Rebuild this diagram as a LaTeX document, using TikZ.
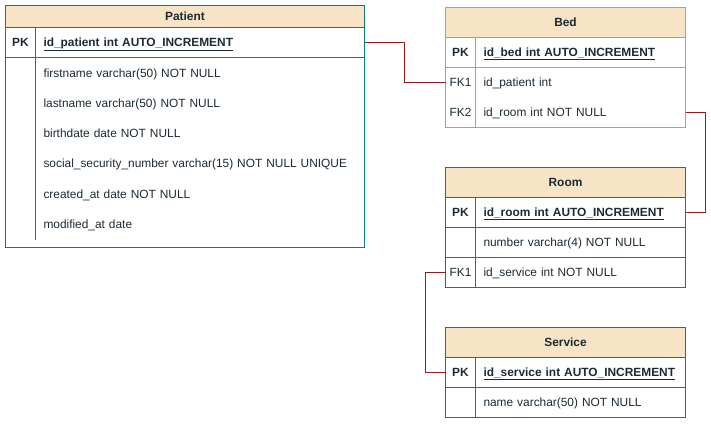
\documentclass[tikz,border=0pt]{standalone}
\usepackage{fontspec}
\setmainfont{Liberation Sans}
\definecolor{bordo}{HTML}{0A7C84}
\definecolor{bordochiaro}{HTML}{6AB8BA}
\definecolor{intest}{HTML}{F7E4C6}
\definecolor{testo}{HTML}{1B2A33}
\definecolor{rosso}{HTML}{8E1F1F}
\begin{document}
\begin{tikzpicture}[x=1pt,y=-1pt,line width=1pt,
  every node/.style={font=\fontsize{11.9}{14}\selectfont, text=testo, inner sep=0pt, outer sep=0pt},
  titolo/.style={fill=intest, font=\fontsize{11.9}{14}\selectfont\bfseries, minimum width=240, minimum height=30, text height=9.6, text depth=1.4},
  chiave/.style={minimum width=30, minimum height=30, text height=9.6, text depth=1.4},
  pk/.style={chiave, font=\fontsize{11.9}{14}\selectfont\bfseries},
  campo/.style={text width=194, inner xsep=8, align=left, minimum height=30, text height=9.6, text depth=1.4},
  rel/.style={draw=rosso, line width=1pt}]
  \useasboundingbox (0,0) rectangle (711,423);
  \begin{scope}[shift={(0.5,0.5)}]

  % Patient
  \node[titolo, minimum width=359, minimum height=22] (patient) at (184.5,16) {Patient};
  \node[pk] (patientpkk) at (20,42) {PK};
  \node[campo, text width=313] (patientpk) at (199.5,42) {\textbf{\underline{id\_patient int AUTO\_INCREMENT}}};
  \node[campo, text width=313] (firstname) at (199.5,72.5) {firstname varchar(50) NOT NULL};
  \node[campo, text width=313] (lastname) at (199.5,102.5) {lastname varchar(50) NOT NULL};
  \node[campo, text width=313] (birthdate) at (199.5,132.5) {birthdate date NOT NULL};
  \node[campo, text width=313] (ssn) at (199.5,163) {social\_security\_number varchar(15) NOT NULL UNIQUE};
  \node[campo, text width=313] (created) at (199.5,193.5) {created\_at date NOT NULL};
  \node[campo, text width=313] (modified) at (199.5,224) {modified\_at date};
  \draw[bordo] (patient.north west) rectangle (364,247);
  \draw[bordo] (patient.south west) -- (patient.south east);
  \draw[bordo] (patientpkk.south west) -- (patientpk.south east);
  \draw[bordo] (patientpkk.north east) -- (35,239);

  % Bed
  \node[titolo] (bed) at (565,22) {Bed};
  \node[pk] (bedpkk) at (460,52) {PK};
  \node[campo] (bedpk) at (580,52) {\textbf{\underline{id\_bed int AUTO\_INCREMENT}}};
  \node[chiave] (bedfk1) at (460,82) {FK1};
  \node[campo] (bedpatient) at (580,82) {id\_patient int};
  \node[chiave] (bedfk2) at (460,112) {FK2};
  \node[campo] (bedroom) at (580,112) {id\_room int NOT NULL};
  \draw[bordochiaro] (bed.north west) rectangle (bedroom.south east);
  \draw[bordochiaro] (bed.south west) -- (bed.south east);
  \draw[bordochiaro] (bedpkk.south west) -- (bedpk.south east);
  \draw[bordochiaro] (bedpkk.north east) -- (bedfk2.south east);

  % Room
  \node[titolo] (room) at (565,182) {Room};
  \node[pk] (roompkk) at (460,212) {PK};
  \node[campo] (roompk) at (580,212) {\textbf{\underline{id\_room int AUTO\_INCREMENT}}};
  \node[chiave] (roomnumk) at (460,242) {};
  \node[campo] (roomnum) at (580,242) {number varchar(4) NOT NULL};
  \node[chiave] (roomfk1) at (460,272) {FK1};
  \node[campo] (roomservice) at (580,272) {id\_service int NOT NULL};
  \draw[bordo] (room.north west) rectangle (roomservice.south east);
  \draw[bordo] (room.south west) -- (room.south east);
  \draw[bordo] (roompkk.south west) -- (roompk.south east);
  \draw[bordo] (roomnumk.south west) -- (roomnum.south east);
  \draw[bordo] (roompkk.north east) -- (roomfk1.south east);

  % Service
  \node[titolo] (service) at (565,342) {Service};
  \node[pk] (servicepkk) at (460,372) {PK};
  \node[campo] (servicepk) at (580,372) {\textbf{\underline{id\_service int AUTO\_INCREMENT}}};
  \node[chiave] (servicenamek) at (460,402) {};
  \node[campo] (servicename) at (580,402) {name varchar(50) NOT NULL};
  \draw[bordo] (service.north west) rectangle (servicename.south east);
  \draw[bordo] (service.south west) -- (service.south east);
  \draw[bordo] (servicepkk.south west) -- (servicepk.south east);
  \draw[bordo] (servicepkk.north east) -- (servicenamek.south east);

  % Relazioni
  \draw[rel] (patientpk.east) -- ++(40,0) |- (bedfk1.west);
  \draw[rel] (bedroom.east) -- ++(20,0) |- (roompk.east);
  \draw[rel] (roomfk1.west) -- ++(-20,0) |- (servicepkk.west);
  \end{scope}
\end{tikzpicture}
\end{document}
